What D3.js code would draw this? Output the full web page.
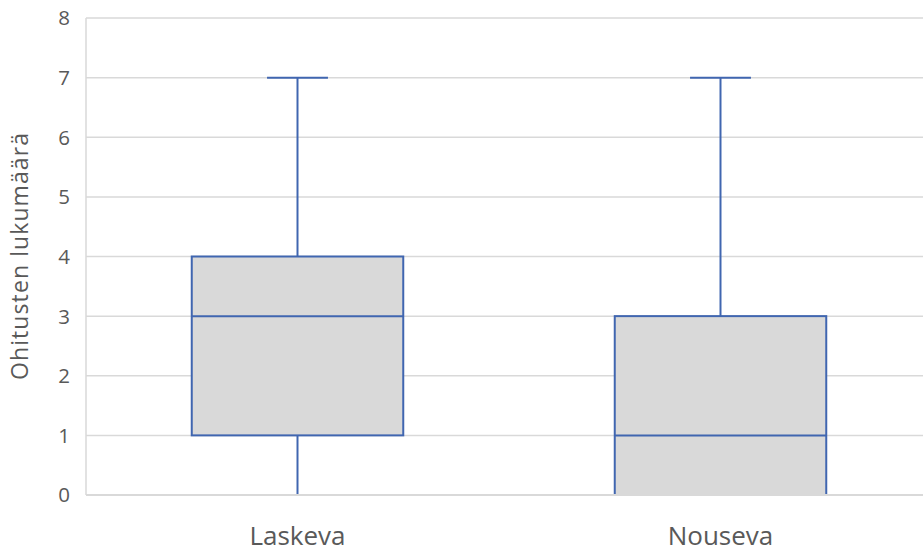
<!DOCTYPE html>
<html><head><meta charset="utf-8">
<script src="https://cdn.jsdelivr.net/npm/d3@7"></script>
<style>body{margin:0;background:#fff;} text{font-family:"Open Sans","Noto Sans",sans-serif;}</style>
</head><body><svg id="c" width="923" height="552"></svg>
<script>
const categories = ["Laskeva", "Nouseva"];
const minValues = [0, 0];
const q1Values = [1, 0];
const medianValues = [3, 1];
const q3Values = [4, 3];
const maxValues = [7, 7];
const yTicks = [0, 1, 2, 3, 4, 5, 6, 7, 8];
const yTitle = "Ohitusten lukumäärä";

const svg = d3.select("#c");
const blue = "#4066b0", grid = "#d9d9d9", txt = "#595959";
const x = d3.scaleBand().domain(categories).range([86, 932]);
const y = d3.scaleLinear().domain([0, 8]).range([495, 18]);

// gridlines
svg.append("g").selectAll("line").data(yTicks).join("line")
  .attr("x1", 86).attr("x2", 923).attr("y1", d => y(d)).attr("y2", d => y(d))
  .attr("stroke", grid).attr("stroke-width", 1.5);
// left axis line
svg.append("line").attr("x1", 86).attr("x2", 86).attr("y1", y(8)).attr("y2", y(0))
  .attr("stroke", grid).attr("stroke-width", 1.5);

// y tick labels
svg.append("g").selectAll("text").data(yTicks).join("text")
  .attr("x", 70).attr("y", d => y(d)).attr("dy", "0.36em").attr("text-anchor", "end")
  .attr("font-size", 20.5).attr("fill", txt).text(d => d);

// y title
svg.append("text").attr("transform", `translate(28,${(y(0)+y(8))/2}) rotate(-90)`)
  .attr("text-anchor", "middle").attr("font-size", 23).attr("fill", txt)
  .attr("textLength", 247).attr("lengthAdjust", "spacing").text(yTitle);

// category labels
svg.append("g").selectAll("text").data(categories).join("text")
  .attr("x", d => x(d) + x.bandwidth()/2).attr("y", 545).attr("text-anchor", "middle")
  .attr("font-size", 26).attr("fill", txt).text(d => d);

const data = categories.map((c, i) => ({c, min: minValues[i], q1: q1Values[i], med: medianValues[i], q3: q3Values[i], max: maxValues[i]}));
const bw = x.bandwidth() * 0.5, cw = x.bandwidth() * 0.072;
const g = svg.append("g").selectAll("g").data(data).join("g");
const cx = d => x(d.c) + x.bandwidth()/2;
// whiskers
g.append("line").attr("x1", cx).attr("x2", cx).attr("y1", d => y(d.q3)).attr("y2", d => y(d.max)).attr("stroke", blue).attr("stroke-width", 2);
g.append("line").attr("x1", cx).attr("x2", cx).attr("y1", d => y(d.q1)).attr("y2", d => y(d.min)).attr("stroke", blue).attr("stroke-width", 2);
g.append("line").attr("x1", d => cx(d) - cw).attr("x2", d => cx(d) + cw).attr("y1", d => y(d.max)).attr("y2", d => y(d.max)).attr("stroke", blue).attr("stroke-width", 2);
g.filter(d => d.min < d.q1).append("line").attr("x1", d => cx(d) - cw).attr("x2", d => cx(d) + cw).attr("y1", d => y(d.min)).attr("y2", d => y(d.min)).attr("stroke", "#c3c9d6").attr("stroke-width", 2);
// box
g.append("rect").attr("x", d => cx(d) - bw/2).attr("width", bw)
  .attr("y", d => y(d.q3)).attr("height", d => y(d.q1) - y(d.q3))
  .attr("fill", "#d9d9d9").attr("stroke", blue).attr("stroke-width", 2);
g.append("line").attr("x1", d => cx(d) - bw/2).attr("x2", d => cx(d) + bw/2).attr("y1", d => y(d.med)).attr("y2", d => y(d.med)).attr("stroke", blue).attr("stroke-width", 2);
// baseline over boxes
svg.append("line").attr("x1", 86).attr("x2", 923).attr("y1", y(0)).attr("y2", y(0)).attr("stroke", grid).attr("stroke-width", 2);
</script></body></html>
